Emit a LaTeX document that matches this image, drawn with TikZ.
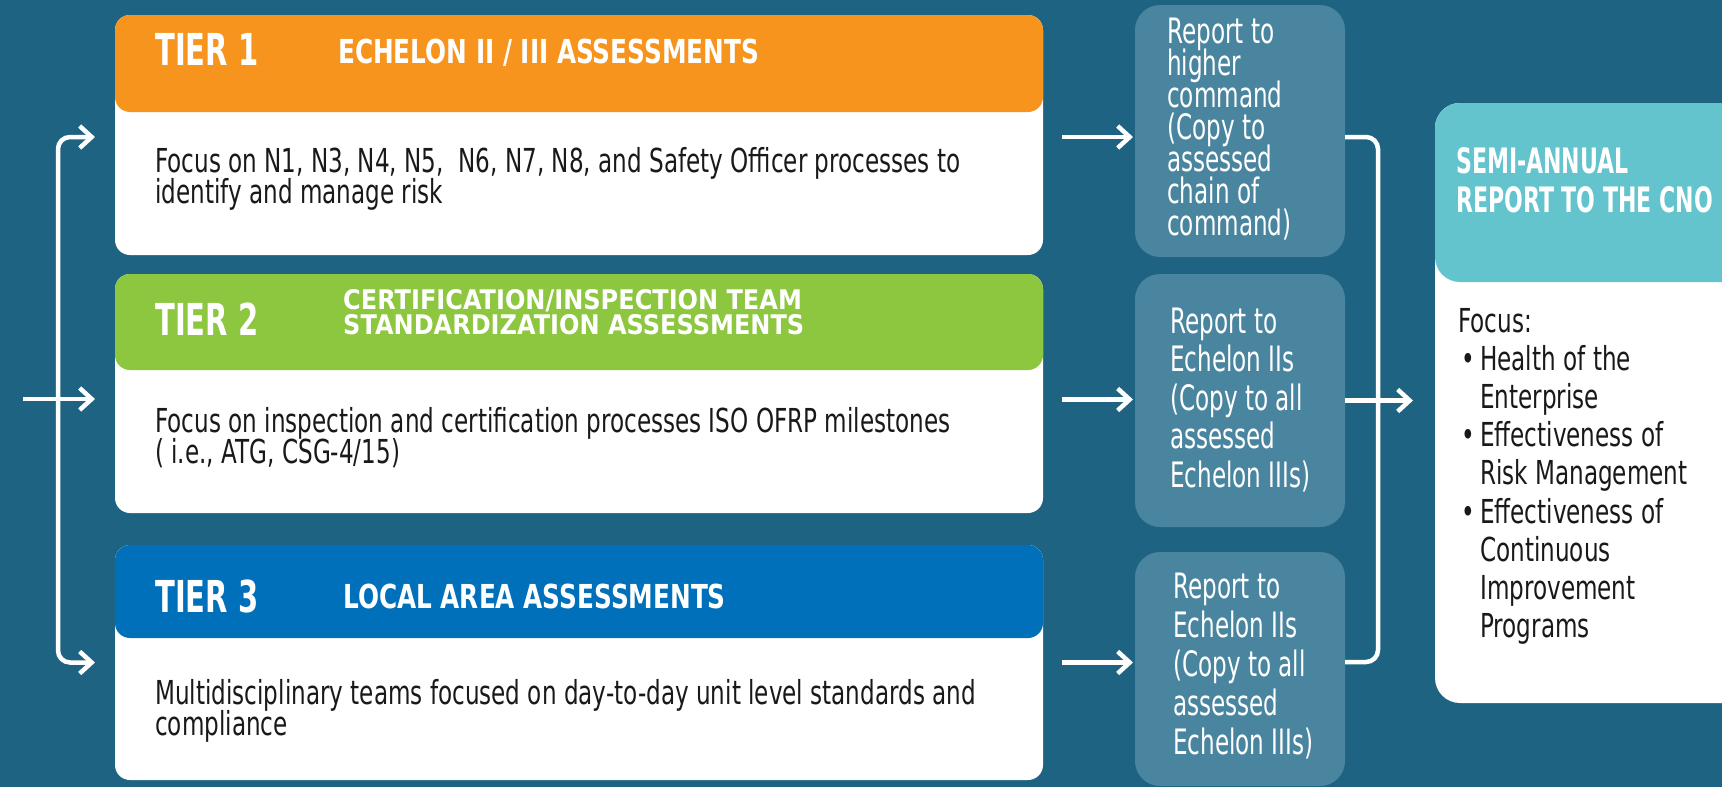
\documentclass[tikz,border=0pt]{standalone}
\usepackage{fontspec}
\setmainfont{DejaVu Sans}
\newfontfamily\bodyf[FakeStretch=0.70]{DejaVu Sans}
\newfontfamily\repf[FakeStretch=0.66]{DejaVu Sans}
\newfontfamily\tierf[FakeStretch=0.66]{DejaVu Sans}
\newfontfamily\subf[FakeStretch=0.75]{DejaVu Sans}
\newfontfamily\subtwof[FakeStretch=0.89]{DejaVu Sans}
\newfontfamily\cnof[FakeStretch=0.63]{DejaVu Sans}
\usetikzlibrary{arrows.meta}
\definecolor{bgblue}{RGB}{30,99,129}
\definecolor{repbox}{RGB}{74,133,160}
\definecolor{tierorange}{RGB}{247,148,30}
\definecolor{tiergreen}{RGB}{141,198,63}
\definecolor{tierblue}{RGB}{0,112,186}
\definecolor{cnoteal}{RGB}{100,196,205}
\definecolor{textdark}{RGB}{25,25,25}
\newcommand\ml[2]{\vtop{\baselineskip=#1pt\lineskiplimit=-1000pt\lineskip=0pt\relax #2}}
\newcommand\rowL[1]{\hbox{#1}}
\begin{document}
\begin{tikzpicture}[x=1pt,y=-1pt,
  panel/.style={rectangle, inner sep=0pt, outer sep=0pt, rounded corners=15pt},
  repnode/.style={rectangle, inner sep=0pt, outer sep=0pt, rounded corners=25pt, fill=repbox},
  tiertxt/.style={inner sep=0pt, anchor=base west, text=white, font=\tierf\bfseries\fontsize{44}{44}\selectfont},
  subtxt/.style={inner sep=0pt, anchor=base west, text=white, font=\subf\bfseries\fontsize{33}{33}\selectfont},
  subtwotxt/.style={inner sep=0pt, anchor=base west, text=white, font=\subtwof\bfseries\fontsize{27}{27}\selectfont},
  bodytxt/.style={inner sep=0pt, anchor=base west, text=textdark, font=\bodyf\fontsize{33}{31}\selectfont},
  reptxt/.style={inner sep=0pt, anchor=base west, text=white, font=\repf\fontsize{35}{32}\selectfont},
  cnohtxt/.style={inner sep=0pt, anchor=base west, text=white, font=\cnof\bfseries\fontsize{35}{39}\selectfont},
  conn/.style={draw=white, line width=4.5pt, rounded corners=12pt},
  arr/.style={conn, -{Straight Barb[length=12pt,width=22pt]}}]
\useasboundingbox (0,0) rectangle (1722,787);
\fill[bgblue] (0,0) rectangle (1722,787);
\begin{scope}
\clip (0,0) rectangle (1722,787);
% tier panels
\node[panel, fill=white, minimum width=928pt, minimum height=240pt] (t1) at (579,135) {};
\node[panel, fill=tierorange, minimum width=928pt, minimum height=97pt] (t1h) at (579,63.5) {};
\node[panel, fill=white, minimum width=928pt, minimum height=239pt] (t2) at (579,393.5) {};
\node[panel, fill=tiergreen, minimum width=928pt, minimum height=96pt] (t2h) at (579,322) {};
\node[panel, fill=white, minimum width=928pt, minimum height=235pt] (t3) at (579,662.5) {};
\node[panel, fill=tierblue, minimum width=928pt, minimum height=93pt] (t3h) at (579,591.5) {};
% report boxes
\node[repnode, minimum width=210pt, minimum height=252pt] (r1) at (1240,131) {};
\node[repnode, minimum width=210pt, minimum height=253pt] (r2) at (1240,400.5) {};
\node[repnode, minimum width=210pt, minimum height=234pt] (r3) at (1240,669) {};
% CNO box
\node[rectangle, inner sep=0pt, outer sep=0pt, rounded corners=25pt, fill=white, minimum width=320pt, minimum height=600pt] (cno) at (1595,403) {};
\node[rectangle, inner sep=0pt, outer sep=0pt, rounded corners=25pt, fill=cnoteal, minimum width=320pt, minimum height=179pt] (cnoh) at (1595,192.5) {};
% tier texts
\node[tiertxt] (t1n) at (155,65) {TIER 1};
\node[subtxt] (t1s) at (338,63) {ECHELON II / III ASSESSMENTS};
\node[bodytxt] (t1b) at (155,172) {\ml{31}{\rowL{Focus on N1, N3, N4, N5,\ \ N6, N7, N8, and Safety Officer processes to}\rowL{identify and manage risk}}};
\node[tiertxt] (t2n) at (155,335) {TIER 2};
\node[subtwotxt] (t2s) at (343,309) {\ml{25}{\rowL{CERTIFICATION/INSPECTION TEAM}\rowL{STANDARDIZATION ASSESSMENTS}}};
\node[bodytxt] (t2b) at (155,432) {\ml{31}{\rowL{Focus on inspection and certification processes ISO OFRP milestones}\rowL{( i.e., ATG, CSG-4/15)}}};
\node[tiertxt] (t3n) at (155,612) {TIER 3};
\node[subtxt] (t3s) at (343,608) {LOCAL AREA ASSESSMENTS};
\node[bodytxt] (t3b) at (155,704) {\ml{31}{\rowL{Multidisciplinary teams focused on day-to-day unit level standards and}\rowL{compliance}}};
% report texts
\node[reptxt] (r1t) at (1167,43) {\ml{32}{\rowL{Report to}\rowL{higher}\rowL{command}\rowL{(Copy to}\rowL{assessed}\rowL{chain of}\rowL{command)}}};
\node[reptxt] (r2t) at (1170,333) {\ml{38.5}{\rowL{Report to}\rowL{Echelon IIs}\rowL{(Copy to all}\rowL{assessed}\rowL{Echelon IIIs)}}};
\node[reptxt] (r3t) at (1173,598) {\ml{39}{\rowL{Report to}\rowL{Echelon IIs}\rowL{(Copy to all}\rowL{assessed}\rowL{Echelon IIIs)}}};
% CNO texts
\node[cnohtxt] (cnot) at (1456,173) {\ml{39}{\rowL{SEMI-ANNUAL}\rowL{REPORT TO THE CNO}}};
\node[bodytxt] (cnob) at (1458,332) {\ml{38.2}{\rowL{Focus:}\rowL{\hskip3pt\makebox[19pt][l]{•}Health of the}\rowL{\hskip22pt Enterprise}\rowL{\hskip3pt\makebox[19pt][l]{•}Effectiveness of}\rowL{\hskip22pt Risk Management}\rowL{\hskip3pt\makebox[19pt][l]{•}Effectiveness of}\rowL{\hskip22pt Continuous}\rowL{\hskip22pt Improvement}\rowL{\hskip22pt Programs}}};
% left connectors
\coordinate (lin) at (23,399);
\coordinate (sp) at (58,399);
\draw[arr, shorten >=20pt] (sp) |- ([yshift=-2pt]t1.west);
\draw[arr, shorten >=20pt] (sp) |- (t3.west);
\draw[arr, shorten >=20pt] (lin) -- ([yshift=-5.5pt]t2.west);
% tier to report
\draw[arr, shorten <=19pt, shorten >=2pt] ([yshift=-2pt]t1.east) -- ([yshift=-2pt]t1.east -| r1.west);
\draw[arr, shorten <=19pt, shorten >=2pt] ([yshift=-6pt]t2.east) -- ([yshift=-6pt]t2.east -| r2.west);
\draw[arr, shorten <=19pt, shorten >=2pt] (t3.east) -- (t3.east -| r3.west);
% report to CNO
\coordinate (bus) at (1378,400);
\draw[conn] ([yshift=-6pt]r1.east) -| (bus);
\draw[conn] ([yshift=7pt]r3.east) -| (bus);
\draw[arr, shorten >=22pt] (r2.east) -- (r2.east -| cno.west);
\end{scope}
\end{tikzpicture}
\end{document}
